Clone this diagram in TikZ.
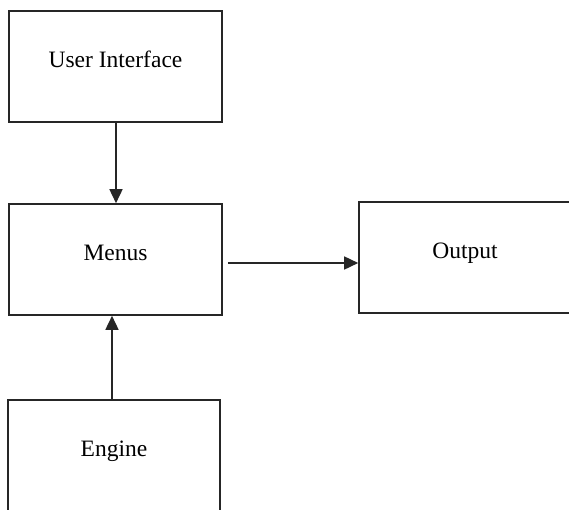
\documentclass[tikz,border=0pt]{standalone}
\usepackage{fontspec}
\setmainfont{Liberation Serif}
\usetikzlibrary{arrows.meta,positioning}
\tikzstyle{arrow} = [line width=1.6pt,draw=black!85,->,>={Triangle[length=14pt,width=13pt]}]
\tikzset{
 box/.style
  = {rectangle, draw=black!85, line width=1.6pt, minimum width=213pt, minimum height=111pt,
     inner sep=0pt, text depth=14pt, font=\fontsize{23.5}{28}\selectfont},
}

\begin{document}
\begin{tikzpicture}[x=1pt, y=-1pt]
\useasboundingbox (0,0) rectangle (569,509);

% Boxes
\node[box] (ui) at (115.5,66.5) {User Interface};
\node[box] (menus) at (115.5,259.5) {Menus};
\node[box, minimum width=212pt] (output) at (465,257.5) {Output};
\node[box, minimum width=212pt] (engine) at (114,455.5) {Engine};

% Arrows
\draw[arrow] ([xshift=0.5pt]ui.south) -- ([xshift=0.5pt]menus.north);
\draw[arrow, shorten <=5pt] ([yshift=-3.5pt]menus.east) -- ([yshift=-3.5pt]menus.east -| output.west);
\draw[arrow] ([xshift=-2pt]engine.north) -- ([xshift=-2pt]engine.north |- menus.south);

\end{tikzpicture}
\end{document}
